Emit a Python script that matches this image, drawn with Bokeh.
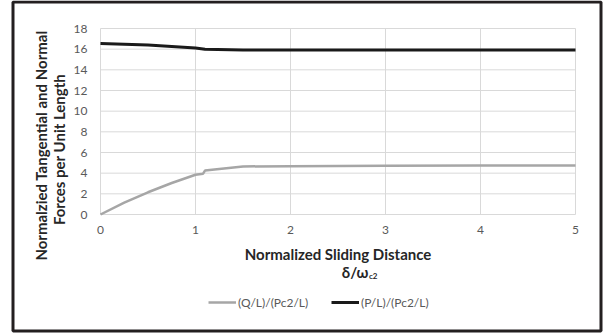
import math
from bokeh.plotting import figure
from bokeh.models import (Range1d, Legend, LegendItem, BoxAnnotation)
from bokeh.core.properties import value
from bokeh.embed import file_html
from bokeh.resources import INLINE

# ---- data ----
q_x = [0.0, 0.25, 0.5, 0.75, 1.0, 1.08, 1.1, 1.3, 1.5, 2.0, 3.0, 4.0, 5.0]
q_y = [0.0, 1.15, 2.15, 3.05, 3.85, 3.95, 4.25, 4.45, 4.65, 4.68, 4.72, 4.75, 4.75]
p_x = [0.0, 0.5, 1.0, 1.1, 1.5, 2.0, 3.0, 4.0, 5.0]
p_y = [16.55, 16.4, 16.12, 16.0, 15.93, 15.92, 15.92, 15.92, 15.92]
x_ticks = [0, 1, 2, 3, 4, 5]
y_ticks = [0, 2, 4, 6, 8, 10, 12, 14, 16, 18]
x_tick_labels = [str(v) for v in x_ticks]
y_tick_labels = [str(v) for v in y_ticks]
q_name = "(Q/L)/(Pc2/L)"
p_name = "(P/L)/(Pc2/L)"
y_title = ["Normalzied Tangential and Normal", "Forces per Unit Length"]
x_title = "Normalized Sliding Distance"
x_title2 = "δ/ω"
x_title2_sub = "c2"

FONT = "Lato"
TCOL = "#262626"
LCOL = "#595959"
W, H = 603, 334
# plot area in page pixels: x 100..575, y 28..214
X0, X1, YT, YB = 100, 575, 28, 214
XMAX, YMAX = 5, 18
kx = (X1 - X0) / XMAX
ky = (YB - YT) / YMAX

p = figure(width=W, height=H, output_backend="svg", toolbar_location=None,
           x_range=Range1d(-X0 / kx, (W - X0) / kx),
           y_range=Range1d(-(H - YB) / ky, YB / ky),
           x_axis_type=None, y_axis_type=None,
           min_border_left=0, min_border_right=0, min_border_top=0,
           min_border_bottom=0)
p.outline_line_color = None
p.grid.visible = False
p.background_fill_color = "white"
p.border_fill_color = "white"

# gridlines
p.segment(x0=x_ticks, x1=x_ticks, y0=[0] * len(x_ticks), y1=[YMAX] * len(x_ticks),
          line_color="#d9d9d9", line_width=1)
p.segment(x0=[0] * len(y_ticks), x1=[XMAX] * len(y_ticks), y0=y_ticks, y1=y_ticks,
          line_color="#d9d9d9", line_width=1)

# tick labels
p.text(x=[-13 / kx] * len(y_ticks), y=y_ticks, text=y_tick_labels,
       text_align="right", text_baseline="middle", text_font=value(FONT),
       text_font_size="12px", text_color=LCOL)
p.text(x=x_ticks, y=[-15 / ky] * len(x_ticks), text=x_tick_labels,
       text_align="center", text_baseline="middle", text_font=value(FONT),
       text_font_size="12px", text_color=LCOL)

# series
rq = p.line(q_x, q_y, line_color="#a6a6a6", line_width=2.5)
rp = p.line(p_x, p_y, line_color="#1a1a1a", line_width=3)

# axis titles
p.text(x=[(40 - X0) / kx, (58 - X0) / kx], y=[(YB - 145) / ky, (YB - 149) / ky],
       text=y_title, angle=math.pi / 2, text_align="center",
       text_baseline="middle", text_font=value(FONT), text_font_style="bold",
       text_font_size="15px", text_color=TCOL)
p.text(x=[(337.5 - X0) / kx], y=[-(253 - YB) / ky], text=[x_title],
       text_align="center", text_baseline="middle", text_font=value(FONT),
       text_font_style="bold", text_font_size="15px", text_color=TCOL)
p.text(x=[(368 - X0) / kx], y=[-(271 - YB) / ky], text=[x_title2],
       text_align="right", text_baseline="middle", text_font=value(FONT),
       text_font_style="bold", text_font_size="15px", text_color=TCOL)
p.text(x=[(368.5 - X0) / kx], y=[-(275 - YB) / ky], text=[x_title2_sub],
       text_align="left", text_baseline="middle", text_font=value(FONT),
       text_font_style="bold", text_font_size="8px", text_color=TCOL)

# legend (two pinned entries)
def make_legend(name, r, x):
    return Legend(items=[LegendItem(label=name, renderers=[r])],
                  location=(x, H - 302 - 8), orientation="horizontal",
                  padding=0, margin=0, label_standoff=2,
                  glyph_width=28, glyph_height=16, label_height=16,
                  label_text_font=FONT, label_text_font_size="12px",
                  label_text_color=LCOL, border_line_color=None,
                  background_fill_alpha=0)

p.add_layout(make_legend(q_name, rq, 208))
p.add_layout(make_legend(p_name, rp, 331))

# outer frame
p.add_layout(BoxAnnotation(left=(12.5 - X0) / kx, right=(600.5 - X0) / kx,
                           top=(YB - 1.5) / ky, bottom=-(330.5 - YB) / ky,
                           fill_alpha=0, line_color="#231f20", line_width=3,
                           line_alpha=1))

open("out.html", "w").write(file_html(p, INLINE))
